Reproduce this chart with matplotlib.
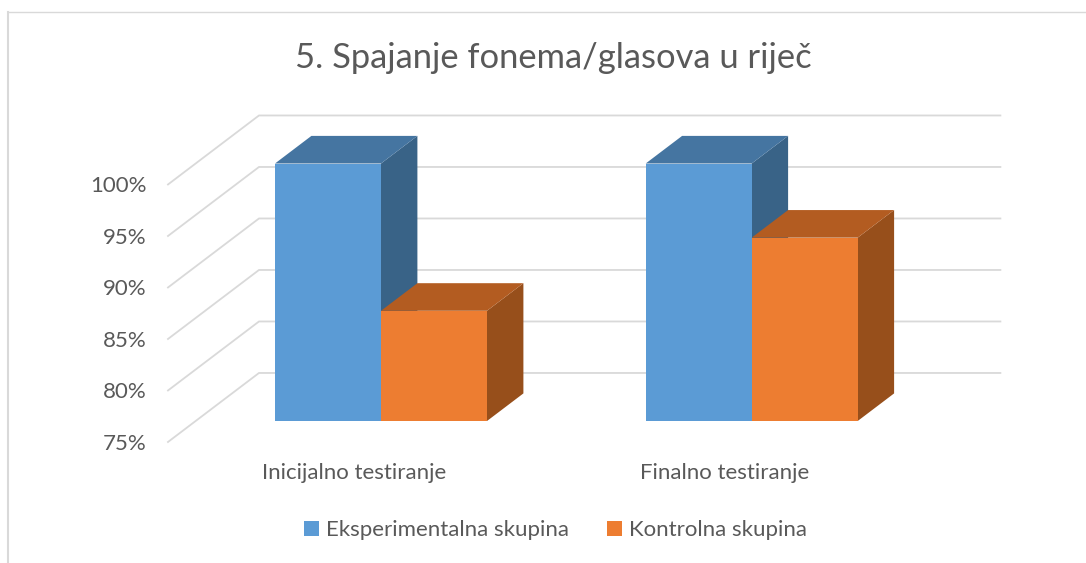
import matplotlib
matplotlib.use("Agg")
import matplotlib.pyplot as plt
from matplotlib.lines import Line2D
from matplotlib.patches import Polygon

plt.rcParams['font.family'] = ['Lato', 'DejaVu Sans']

categories = ["Inicijalno testiranje", "Finalno testiranje"]
series_names = ["Eksperimentalna skupina", "Kontrolna skupina"]
eksperimentalna = [100, 100]
kontrolna = [85.7, 92.8]
y_ticks = [75, 80, 85, 90, 95, 100]

blue = ["#5b9bd5", "#4575a1", "#396387"]
orange = ["#ed7d31", "#b35c21", "#974f1b"]
text_col = "#595959"
grid_col = "#d9d9d9"

W, H = 1086, 563
# pixels per category / per percent in the plane of the bars
PX_CAT = 370.7
PX_PCT = 10.3
X0_PX, Y0_PX = 381, 421  # where x=0, 75% sits on screen
# depth: 0 front of wall, 1 back wall
DX = 91 / PX_CAT
DY = 69 / PX_PCT
BAR_D0 = 0.304
BAR_D1 = 0.704
BAR_W = 106 / PX_CAT


def proj(x, v, d):
    return x + DX * (d - BAR_D0), v + DY * (d - BAR_D0)


def box(ax, x, v, cols, z):
    # x is left edge of the front face
    l, r = x, x + BAR_W
    ax.bar(l, v - 75, BAR_W, bottom=75, align="edge", color=cols[0], zorder=z + 2)
    top = [proj(l, v, BAR_D0), proj(r, v, BAR_D0), proj(r, v, BAR_D1), proj(l, v, BAR_D1)]
    side = [proj(r, 75, BAR_D0), proj(r, v, BAR_D0), proj(r, v, BAR_D1), proj(r, 75, BAR_D1)]
    ax.add_patch(Polygon(side, closed=True, fc=cols[2], ec="none", zorder=z))
    ax.add_patch(Polygon(top, closed=True, fc=cols[1], ec="none", zorder=z + 1))


fig = plt.figure(figsize=(W / 100, H / 100), dpi=100)
ax = fig.add_axes([0, 0, 1, 1])
ax.set_xlim(-X0_PX / PX_CAT, (W - X0_PX) / PX_CAT)
ax.set_ylim(75 - (H - Y0_PX) / PX_PCT, 75 + Y0_PX / PX_PCT)
ax.axis("off")

# walls
for t in y_ticks:
    pts = [proj(-0.5, t, 0), proj(-0.5, t, 1), proj(1.5, t, 1)]
    ax.plot([p[0] for p in pts], [p[1] for p in pts], color=grid_col, lw=1.3, zorder=1,
            solid_joinstyle="miter")
    px, py = proj(-0.5, t, 0)
    ax.text(px - 21 / PX_CAT, py - 2 / PX_PCT, str(t) + "%", ha="right", va="center",
            fontsize=16, color=text_col)

for i in range(len(categories)):
    box(ax, i - BAR_W, eksperimentalna[i], blue, 2 + i * 10)
    box(ax, i, kontrolna[i], orange, 6 + i * 10)
    px, _ = proj(i, 75, 0)
    ax.text(px + 1 / PX_CAT, 75 + (Y0_PX - 473) / PX_PCT, categories[i], ha="center", va="center",
            fontsize=16, color=text_col)

fig.text(553 / W, 1 - 58 / H, "5. Spajanje fonema/glasova u riječ", ha="center", va="center",
         fontsize=24.8, color=text_col)

# outer frame of the chart
fig.add_artist(Line2D([8 / W, 1], [1 - 11.5 / H] * 2, color=grid_col, lw=1))
fig.add_artist(Line2D([8 / W] * 2, [0, 1 - 11.5 / H], color=grid_col, lw=1.5))

handles = [plt.Rectangle((0, 0), 1, 1, fc=blue[0]), plt.Rectangle((0, 0), 1, 1, fc=orange[0])]
fig.legend(handles, series_names, loc="center", bbox_to_anchor=(555.5 / W, 1 - 530 / H), ncol=2,
           frameon=False, fontsize=16, labelcolor=text_col, handlelength=0.65, handleheight=0.65,
           handletextpad=0.3, columnspacing=1.75, borderpad=0)

fig.savefig("out.png", dpi=100, facecolor="white")
